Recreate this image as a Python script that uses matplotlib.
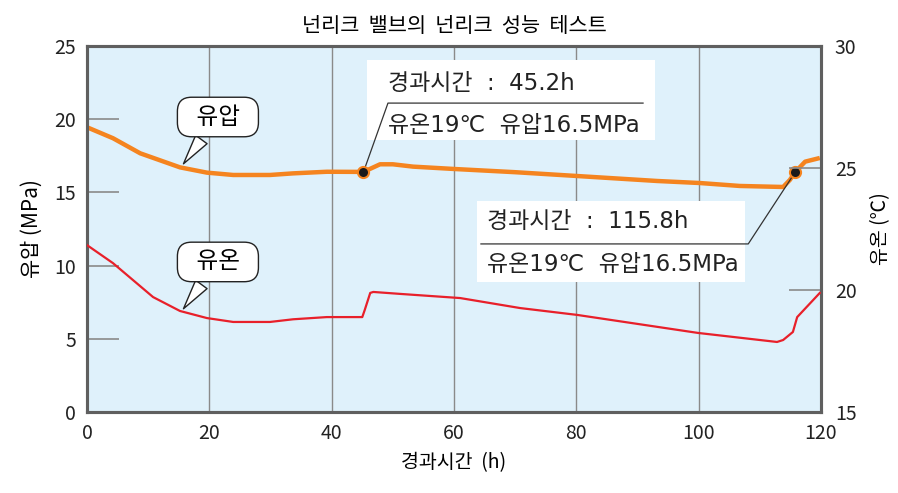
import matplotlib.pyplot as plt
from matplotlib.patches import Rectangle

plt.rcParams['font.family'] = ['Noto Sans CJK KR', 'DejaVu Sans']

# 유압 (MPa) - orange line, left axis
p_hours = [0, 4.25, 8.7, 15.2, 19.6, 23.9, 29.9, 33.7, 39.2, 45.0, 45.2, 47.9, 50.0, 53.3,
           60, 70, 80.1, 93.2, 100.2, 106.7, 113.8, 114.9, 115.8, 117.4, 119.8]
p_values = [19.45, 18.7, 17.67, 16.71, 16.35, 16.19, 16.19, 16.3, 16.41, 16.4, 16.4, 16.92, 16.92, 16.76,
            16.6, 16.38, 16.12, 15.78, 15.64, 15.44, 15.37, 15.85, 16.4, 17.1, 17.35]

# 유온 (℃) - red line, right axis
t_hours = [0, 4.25, 10.8, 15.2, 19.6, 23.9, 29.9, 33.7, 39.2, 45.0, 45.4, 46.3, 46.8, 51.2,
           61.0, 70.8, 80.1, 99.9, 112.8, 113.8, 115.4, 116.1, 119.8]
t_values = [21.84, 21.1, 19.71, 19.14, 18.85, 18.69, 18.69, 18.8, 18.89, 18.89, 19.18, 19.88, 19.92, 19.84,
            19.67, 19.26, 18.98, 18.24, 17.87, 17.95, 18.28, 18.89, 19.88]

marks_h = [45.2, 115.8]
marks_p = [16.4, 16.4]
line1 = ['경과시간  :  45.2h', '경과시간  :  115.8h']
line2 = '유온19℃  유압16.5MPa'

fig = plt.figure(figsize=(8.98, 4.93), dpi=100)
ax = fig.add_axes([0.0969, 0.1643, 0.8174, 0.7424])
ax.set_facecolor('#dff1fb')
ax2 = ax.twinx()

ax.set_xlim(0, 120)
ax.set_ylim(0, 25)
ax2.set_ylim(15, 30)

for s in ax.spines.values():
    s.set_color('#5f5f5f')
    s.set_linewidth(2.2)
for s in ax2.spines.values():
    s.set_color('#5f5f5f')
    s.set_linewidth(2.2)

ax.set_xticks([0, 20, 40, 60, 80, 100, 120])
ax.set_yticks([0, 5, 10, 15, 20, 25])
ax2.set_yticks([15, 20, 25, 30])
ax.tick_params(length=0, labelsize=14, pad=8, colors='#222222')
ax2.tick_params(length=0, labelsize=14, pad=10, colors='#222222')

for g in [20, 40, 60, 80, 100]:
    ax.axvline(g, color='#8a8a8a', lw=1, zorder=1)
ax.hlines([5, 10, 15, 20], 0, 5.2, color='#8a8a8a', lw=1.2, zorder=1)
ax2.hlines([20, 25], 114.8, 120, color='#8a8a8a', lw=1.2, zorder=1)

ax.plot(p_hours, p_values, color='#f5841f', lw=3.2, zorder=3, solid_capstyle='butt')
ax2.plot(t_hours, t_values, color='#e8202a', lw=1.6, zorder=3)

ax.set_xlabel('경과시간  (h)', fontsize=14, labelpad=6)
ax.set_ylabel('유압 (MPa)', fontsize=15, labelpad=8)
ax2.set_ylabel('유온 (℃)', fontsize=14, labelpad=10)
ax.set_title('넌리크  밸브의  넌리크  성능  테스트', fontsize=15, pad=10)

# speech bubbles
bub = dict(boxstyle='round,pad=0.35,rounding_size=0.6', fc='white', ec='#222222', lw=1)
wedge = dict(arrowstyle='wedge,tail_width=0.6,shrink_factor=0.5', fc='white', ec='#222222', lw=1)
ax.annotate('  유압  ', xy=(15.5, 16.8), xytext=(21.4, 20.15), fontsize=17, ha='center', va='center',
            bbox=bub, arrowprops=wedge, zorder=6)
ax.annotate('  유온  ', xy=(15.5, 6.9), xytext=(21.4, 10.25), fontsize=17, ha='center', va='center',
            bbox=bub, arrowprops=wedge, zorder=6)

# info boxes
ax.add_patch(Rectangle((45.8, 18.58), 47.1, 5.46, fc='white', ec='none', zorder=4))
ax.add_patch(Rectangle((63.8, 8.88), 43.8, 5.53, fc='white', ec='none', zorder=4))

info_font = ['DejaVu Sans', 'Noto Sans CJK KR']
ax.text(49.2, 22.47, line1[0], fontsize=16.5, family=info_font, va='center', ha='left', zorder=5, color='#222222')
ax.text(49.2, 19.6, line2, fontsize=16.5, family=info_font, va='center', ha='left', zorder=5, color='#222222')
ax.plot([marks_h[0], 49.2, 90.9], [marks_p[0], 21.1, 21.1], color='#333333', lw=0.9, zorder=5)

ax.text(65.4, 12.98, line1[1], fontsize=16.5, family=info_font, va='center', ha='left', zorder=5, color='#222222')
ax.text(65.4, 10.1, line2, fontsize=16.5, family=info_font, va='center', ha='left', zorder=5, color='#222222')
ax.plot([64.4, 108.1, marks_h[1]], [11.48, 11.48, marks_p[1]], color='#333333', lw=0.9, zorder=5)

ax.plot(marks_h, marks_p, 'o', ms=8, mfc='#1a1a1a', mec='#f5841f', mew=1.5, zorder=7)

fig.savefig('out.png', dpi=100)
